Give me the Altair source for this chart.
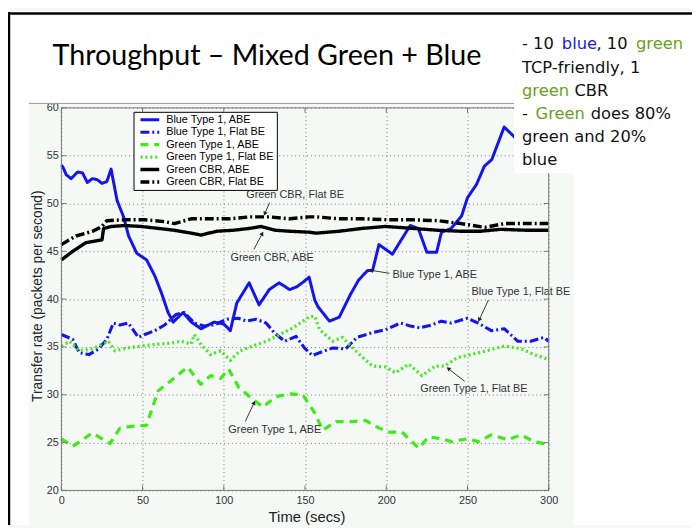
import math
import altair as alt
import pandas as pd

# ---------------- data ----------------
series_names = ["Blue Type 1, ABE", "Blue Type 1, Flat BE", "Green Type 1, ABE",
                "Green Type 1, Flat BE", "Green CBR, ABE", "Green CBR, Flat BE"]
series_colors = ["#1414f0", "#1414f0", "#3dec14", "#3dec14", "#000000", "#000000"]
series_dashes = [[1, 0], [9, 3, 2, 3], [8, 6], [2, 3], [1, 0], [9, 3, 2, 3]]
series_widths = [3, 3.5, 4, 2, 3, 3]

blue_abe_t = [0, 1, 3, 6, 10, 13, 16, 19, 22, 25, 28, 30.6, 34.3, 38.3, 41.4, 46.4, 52.5, 57.6,
              61.5, 65.7, 68.8, 75, 80, 86, 94, 100, 104, 108, 115.6, 121.7, 128, 134, 140.6,
              145, 149, 152.5, 156, 158, 165, 171, 178, 183, 188.5, 191.6, 195.5, 203.8, 210,
              214.8, 219.7, 225, 231, 234, 240, 246.4, 250, 255.6, 260.4, 265, 272.6, 276.8,
              285, 292, 300]
blue_abe_v = [54.0, 53.8, 53.0, 52.6, 53.3, 53.2, 52.2, 52.6, 52.5, 52.1, 52.3, 53.6, 50.3, 48.6,
              46.6, 44.8, 44.1, 42.4, 40.7, 38.6, 37.6, 38.6, 37.6, 36.9, 37.6, 37.4, 36.7, 39.6,
              41.7, 39.4, 41.0, 41.7, 41.0, 41.3, 41.8, 42.3, 39.9, 39.2, 37.7, 38.1, 40.5, 42.0,
              43.0, 43.0, 45.7, 44.7, 46.4, 47.7, 47.4, 44.9, 44.9, 47.0, 47.4, 48.7, 50.6, 52.0,
              53.9, 54.6, 58.0, 57.3, 56.0, 54.5, 53.5]

blue_flat_t = [0, 7, 11, 17, 23, 28, 32, 36, 41.3, 47.4, 51.4, 57.5, 63.6, 70.6, 75.7, 81.8,
               87.8, 93.9, 102, 109, 114, 120, 126, 131, 137.4, 144.5, 149.6, 154.6, 159, 167,
               175, 182, 191.5, 199.6, 208.7, 214.8, 220.8, 227.9, 234, 240, 250, 256.6, 264.7,
               272.8, 280.9, 289, 297, 300]
blue_flat_v = [36.3, 35.8, 34.4, 34.2, 34.8, 35.8, 37.5, 37.3, 37.5, 36.0, 36.3, 36.7, 37.3, 38.4,
               38.6, 37.5, 37.2, 37.3, 37.9, 38.0, 37.7, 37.9, 37.5, 36.5, 35.6, 36.1, 34.9, 34.1,
               34.4, 34.9, 34.8, 36.0, 36.5, 36.8, 37.5, 37.2, 37.0, 37.3, 37.7, 37.5, 38.0, 37.5,
               36.7, 36.9, 35.6, 35.6, 36.0, 35.6]

green_abe_t = [0, 7, 19, 30, 36, 43, 52.4, 59.5, 67.6, 77.7, 85.8, 91.9, 98, 103, 109, 116, 124,
               132, 140.5, 148.6, 155.6, 161, 169, 179, 187.5, 193.5, 201, 209.7, 220, 226, 234,
               240, 250, 256.6, 264.7, 274.8, 283, 291, 300]
green_abe_v = [25.4, 24.6, 26.0, 24.9, 26.5, 26.7, 26.8, 30.4, 31.5, 32.9, 31.1, 32.0, 31.7, 32.7,
               30.8, 29.8, 28.7, 29.8, 30.1, 30.0, 28.2, 26.3, 27.2, 27.2, 27.3, 26.7, 26.1, 26.1,
               24.4, 25.6, 25.4, 25.1, 25.4, 25.1, 25.8, 25.3, 25.8, 25.1, 24.8]

green_flat_t = [0, 5, 11, 19, 29, 33, 41, 49.4, 59.5, 67.6, 73.7, 79.8, 81.8, 85.8, 91.9, 98, 104,
                110, 118, 126.3, 134.4, 142.5, 150.6, 153, 156, 159, 167, 173, 181, 191.5, 199.6,
                205.7, 213.8, 221.9, 230, 236, 244, 252, 262, 272.8, 283, 291, 300]
green_flat_v = [35.1, 35.6, 34.6, 34.8, 35.6, 34.6, 34.9, 35.1, 35.3, 35.4, 35.6, 35.3, 36.3, 35.3,
                34.2, 34.6, 33.6, 34.6, 35.1, 35.6, 36.3, 37.0, 37.9, 38.2, 38.2, 36.8, 35.6, 36.0,
                34.6, 33.0, 32.9, 32.3, 33.2, 32.0, 33.0, 33.0, 33.9, 34.2, 34.6, 35.1, 34.8, 34.2,
                33.7]

cbr_abe_t = [0, 7, 15, 25, 26, 31, 39, 49, 59.5, 69.6, 80, 86, 95.6, 105.7, 116, 123, 132, 140.6,
             152.5, 157, 171, 185.4, 199.6, 216, 232, 246, 258, 270.5, 286.7, 300]
cbr_abe_v = [44.1, 45.0, 45.9, 46.2, 47.4, 47.6, 47.7, 47.6, 47.4, 47.2, 46.9, 46.7, 47.1, 47.2,
             47.4, 47.6, 47.2, 47.1, 47.0, 46.9, 47.1, 47.4, 47.6, 47.4, 47.2, 47.1, 47.1, 47.3,
             47.2, 47.2]

cbr_flat_t = [0, 9, 19.3, 25, 28, 39, 51, 63.6, 69.6, 80, 92, 104, 116, 128, 140.6, 152.5, 157,
              171, 185, 201, 216, 232, 246, 260.7, 272.8, 287, 300]
cbr_flat_v = [45.7, 46.6, 47.1, 47.6, 48.2, 48.3, 48.3, 48.1, 47.9, 48.4, 48.4, 48.4, 48.6, 48.6,
              48.4, 48.6, 48.6, 48.4, 48.4, 48.3, 48.3, 48.2, 47.9, 47.5, 47.9, 47.9, 47.9]

x_ticks = [0, 50, 100, 150, 200, 250, 300]
y_ticks = [20, 25, 30, 35, 40, 45, 50, 55, 60]

# annotations: label position and arrow tail -> head, in data units
annot_labels = ["Green CBR, Flat BE", "Green CBR, ABE", "Blue Type 1, ABE",
                "Blue Type 1, Flat BE", "Green Type 1, Flat BE", "Green Type 1, ABE"]
annot_t = [113.8, 104.1, 203.9, 252.5, 220.9, 102.8]
annot_v = [50.9, 44.3, 42.5, 40.7, 30.6, 26.3]
arrow_t = [128.2, 118.5, 202.0, 262.9, 248.3, 113.2]
arrow_v = [50.1, 45.2, 42.7, 39.9, 31.4, 27.2]
arrow_t2 = [125.4, 123.5, 191.1, 257.4, 238.5, 118.5]
arrow_v2 = [49.0, 46.8, 43.0, 37.9, 32.7, 29.1]

# ---------------- tables ----------------
rows = []
for name, ts, vs in zip(series_names,
                        [blue_abe_t, blue_flat_t, green_abe_t, green_flat_t, cbr_abe_t, cbr_flat_t],
                        [blue_abe_v, blue_flat_v, green_abe_v, green_flat_v, cbr_abe_v, cbr_flat_v]):
    for t, v in zip(ts, vs):
        rows.append({"series": name, "t": t, "v": v})
df = pd.DataFrame(rows)

W, H = 493, 387
OX, OY = 62, 106  # page position of plot origin
FONT = "Liberation Sans"
XT = "Time (secs)"
YT = "Transfer rate (packets per second)"

ann = pd.DataFrame({"label": annot_labels, "t": annot_t, "v": annot_v})
arr = pd.DataFrame({"t": arrow_t, "v": arrow_v, "t2": arrow_t2, "v2": arrow_v2})
angles = []
for a, b, c, d in zip(arrow_t, arrow_v, arrow_t2, arrow_v2):
    dx = (c - a) * W / 300.0
    dy = -(d - b) * H / 40.0
    angles.append(math.degrees(math.atan2(dx, -dy)) % 360)
heads = pd.DataFrame({"t": arrow_t2, "v": arrow_v2, "ang": angles})

legend = alt.Legend(title=None, orient="none", legendX=73, legendY=4, fillColor="white",
                    strokeColor="black", padding=3, symbolType="stroke", symbolSize=361,
                    clipHeight=10, rowPadding=1.6, labelFontSize=11, labelFont=FONT,
                    labelColor="black", symbolOffset=2, labelOffset=5, labelLimit=300)

x_axis = alt.Axis(values=x_ticks, title=XT, grid=True, gridDash=[1, 3], gridColor="#7a7a7a",
                  domain=False, ticks=False, labelPadding=4, labelFont=FONT, labelFontSize=11,
                  labelColor="#333333", labelFlush=False, titleFont=FONT, titleFontSize=15,
                  titleFontWeight="normal", titleColor="#222222", titleX=248, titleY=26,
                  titleBaseline="middle", titleAlign="center")
y_axis = alt.Axis(values=y_ticks, title=YT, grid=True, gridDash=[1, 3], gridColor="#7a7a7a",
                  domain=False, ticks=False, labelPadding=3, labelFont=FONT, labelFontSize=11,
                  labelColor="#333333", labelFlush=False, titleFont=FONT, titleFontSize=14,
                  titleFontWeight="normal", titleColor="#222222", titleX=-24.5, titleY=190,
                  titleAngle=270, titleBaseline="middle", titleAlign="center")

xs = alt.Scale(domain=[0, 300], nice=False, zero=False)
ys = alt.Scale(domain=[20, 60], nice=False, zero=False)

lines = alt.Chart(df).mark_line(strokeJoin="round").encode(
    x=alt.X("t:Q", scale=xs, axis=x_axis, title=XT),
    y=alt.Y("v:Q", scale=ys, axis=y_axis, title=YT),
    color=alt.Color("series:N", scale=alt.Scale(domain=series_names, range=series_colors), legend=legend),
    strokeDash=alt.StrokeDash("series:N", scale=alt.Scale(domain=series_names, range=series_dashes), legend=legend),
    strokeWidth=alt.StrokeWidth("series:N", scale=alt.Scale(domain=series_names, range=series_widths), legend=legend),
)

one = pd.DataFrame({"a": [0]})
FRAME = "#777777"

xt_df = pd.DataFrame({"t": x_ticks})
yt_df = pd.DataFrame({"v": y_ticks})
ticks_b = alt.Chart(xt_df).mark_rule(color=FRAME, strokeWidth=1).encode(
    x=alt.X("t:Q", title=XT), y=alt.value(H), y2=alt.value(H - 5))
ticks_t = alt.Chart(xt_df).mark_rule(color=FRAME, strokeWidth=1).encode(
    x=alt.X("t:Q", title=XT), y=alt.value(0), y2=alt.value(5))
ticks_l = alt.Chart(yt_df).mark_rule(color=FRAME, strokeWidth=1).encode(
    y=alt.Y("v:Q", title=YT), x=alt.value(0), x2=alt.value(5))
ticks_r = alt.Chart(yt_df).mark_rule(color=FRAME, strokeWidth=1).encode(
    y=alt.Y("v:Q", title=YT), x=alt.value(W), x2=alt.value(W - 5))

ann_text = alt.Chart(ann).mark_text(align="left", baseline="middle", font=FONT, fontSize=11,
                                    color="#333333").encode(
    x=alt.X("t:Q", title=XT), y=alt.Y("v:Q", title=YT), text="label:N")
ann_rule = alt.Chart(arr).mark_rule(color="#222222", strokeWidth=0.9).encode(
    x=alt.X("t:Q", title=XT), y=alt.Y("v:Q", title=YT), x2="t2:Q", y2="v2:Q")
ann_head = alt.Chart(heads).mark_point(shape="triangle", filled=True, size=22, color="#222222",
                                       opacity=1).encode(
    x=alt.X("t:Q", title=XT), y=alt.Y("v:Q", title=YT), angle=alt.Angle("ang:Q", scale=None))

frame = alt.Chart(one).mark_rect(fill="transparent", stroke=FRAME, strokeWidth=1).encode(
    x=alt.value(0), x2=alt.value(W), y=alt.value(0), y2=alt.value(H))


def rect(x0, x1, y0, y1, color):
    return alt.Chart(one).mark_rect(fill=color, strokeWidth=0).encode(
        x=alt.value(x0 - OX), x2=alt.value(x1 - OX), y=alt.value(y0 - OY), y2=alt.value(y1 - OY))


def hline(x0, x1, y, color, width):
    return alt.Chart(one).mark_rule(color=color, strokeWidth=width).encode(
        x=alt.value(x0 - OX), x2=alt.value(x1 - OX), y=alt.value(y - OY), y2=alt.value(y - OY))


def vline(x, y0, y1, color, width):
    return alt.Chart(one).mark_rule(color=color, strokeWidth=width).encode(
        x=alt.value(x - OX), x2=alt.value(x - OX), y=alt.value(y0 - OY), y2=alt.value(y1 - OY))


def label(txt, px, py, size, color, font):
    return alt.Chart(one).mark_text(text=txt, align="left", baseline="alphabetic", font=font,
                                    fontSize=size, color=color).encode(
        x=alt.value(px - OX), y=alt.value(py - OY))


white_parts = [
    rect(8, 700, 8, 101, "white"),      # slide area above figure
    rect(8, 29, 101, 528, "white"),     # slide strip left of figure
    rect(580, 700, 101, 528, "white"),  # slide strip right of figure
    rect(520, 580, 101, 172, "white"),  # text box over the figure
]
fig_edge = hline(29, 520, 101.5, "#9a9a9a", 1)
borders = [vline(9, 9, 528, "black", 2.5), hline(8, 700, 10.5, "black", 2.5)]

BLUE_T = "#1a1ae6"
GREEN_T = "#6aa121"
BLACK_T = "#111111"
TB = "DejaVu Sans"
TS = 16.5
texts = [
    label("Throughput \u2013 Mixed Green + Blue", 53, 63, 29, "#000000", "Lato"),
    label("- 10", 528, 46.7, TS, BLACK_T, TB),
    label("blue", 568.3, 46.7, TS, BLUE_T, TB),
    label(", 10", 603.3, 46.7, TS, BLACK_T, TB),
    label("green", 643.3, 46.7, TS, GREEN_T, TB),
    label("TCP-friendly, 1", 528, 70.5, TS, BLACK_T, TB),
    label("green", 528, 94, TS, GREEN_T, TB),
    label("CBR", 581, 94, TS, BLACK_T, TB),
    label("-", 528, 117.3, TS, BLACK_T, TB),
    label("Green", 541.7, 117.3, TS, GREEN_T, TB),
    label("does 80%", 597.5, 117.3, TS, BLACK_T, TB),
    label("green and 20%", 528, 140.6, TS, BLACK_T, TB),
    label("blue", 528, 164, TS, BLACK_T, TB),
]

chart = alt.layer(
    lines, ticks_b, ticks_t, ticks_l, ticks_r, ann_rule, ann_head, ann_text, frame,
    *white_parts, fig_edge, *borders, *texts
).properties(
    width=W, height=H, background="#f4f9f6",
    padding={"left": 54, "top": 98, "right": 145, "bottom": 35},
    autosize=alt.AutoSizeParams(type="none"),
).configure_view(stroke=None)

chart.save("out.html", embed_options={"renderer": "svg", "actions": False})
